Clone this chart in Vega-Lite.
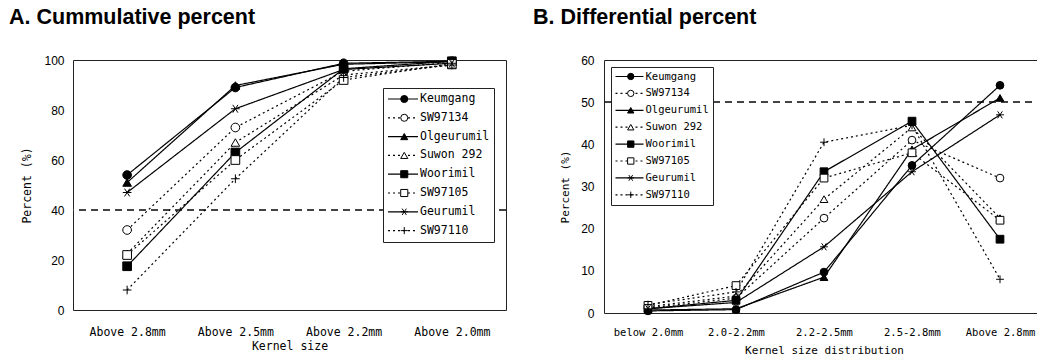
{
  "$schema": "https://vega.github.io/schema/vega-lite/v6.json",
  "padding": {"left": 8, "top": 6, "right": 0, "bottom": 0},
  "background": "white",
  "config": {
    "view": {"stroke": "#222", "strokeWidth": 1},
    "font": "Liberation Sans",
    "legend": {"labelFont": "DejaVu Sans Mono"},
    "axis": {"grid": false, "ticks": false, "domain": false, "labelColor": "black", "titleColor": "black", "titleFontWeight": "normal"},
    "title": {"anchor": "start", "frame": "group", "fontSize": 21.5, "fontWeight": "bold", "font": "Liberation Sans", "color": "black", "offset": 26}
  },
  "datasets": {
    "cum": [
      {"cultivar": "Keumgang", "size": "Above 2.8mm", "pct": 54},
      {"cultivar": "Keumgang", "size": "Above 2.5mm", "pct": 89},
      {"cultivar": "Keumgang", "size": "Above 2.2mm", "pct": 98.7},
      {"cultivar": "Keumgang", "size": "Above 2.0mm", "pct": 99.5},
      {"cultivar": "SW97134", "size": "Above 2.8mm", "pct": 32},
      {"cultivar": "SW97134", "size": "Above 2.5mm", "pct": 73},
      {"cultivar": "SW97134", "size": "Above 2.2mm", "pct": 95.5},
      {"cultivar": "SW97134", "size": "Above 2.0mm", "pct": 99},
      {"cultivar": "Olgeurumil", "size": "Above 2.8mm", "pct": 51},
      {"cultivar": "Olgeurumil", "size": "Above 2.5mm", "pct": 89.8},
      {"cultivar": "Olgeurumil", "size": "Above 2.2mm", "pct": 98.3},
      {"cultivar": "Olgeurumil", "size": "Above 2.0mm", "pct": 99.3},
      {"cultivar": "Suwon 292", "size": "Above 2.8mm", "pct": 22.5},
      {"cultivar": "Suwon 292", "size": "Above 2.5mm", "pct": 67},
      {"cultivar": "Suwon 292", "size": "Above 2.2mm", "pct": 94},
      {"cultivar": "Suwon 292", "size": "Above 2.0mm", "pct": 98},
      {"cultivar": "Woorimil", "size": "Above 2.8mm", "pct": 17.5},
      {"cultivar": "Woorimil", "size": "Above 2.5mm", "pct": 63},
      {"cultivar": "Woorimil", "size": "Above 2.2mm", "pct": 96.5},
      {"cultivar": "Woorimil", "size": "Above 2.0mm", "pct": 99.5},
      {"cultivar": "SW97105", "size": "Above 2.8mm", "pct": 22},
      {"cultivar": "SW97105", "size": "Above 2.5mm", "pct": 60},
      {"cultivar": "SW97105", "size": "Above 2.2mm", "pct": 92},
      {"cultivar": "SW97105", "size": "Above 2.0mm", "pct": 98.5},
      {"cultivar": "Geurumil", "size": "Above 2.8mm", "pct": 47},
      {"cultivar": "Geurumil", "size": "Above 2.5mm", "pct": 80.5},
      {"cultivar": "Geurumil", "size": "Above 2.2mm", "pct": 96.2},
      {"cultivar": "Geurumil", "size": "Above 2.0mm", "pct": 98.7},
      {"cultivar": "SW97110", "size": "Above 2.8mm", "pct": 8},
      {"cultivar": "SW97110", "size": "Above 2.5mm", "pct": 52.5},
      {"cultivar": "SW97110", "size": "Above 2.2mm", "pct": 93},
      {"cultivar": "SW97110", "size": "Above 2.0mm", "pct": 98}
    ],
    "diff": [
      {"cultivar": "Keumgang", "size": "below 2.0mm", "pct": 0.5},
      {"cultivar": "Keumgang", "size": "2.0-2.2mm", "pct": 0.8},
      {"cultivar": "Keumgang", "size": "2.2-2.5mm", "pct": 9.7},
      {"cultivar": "Keumgang", "size": "2.5-2.8mm", "pct": 35},
      {"cultivar": "Keumgang", "size": "Above 2.8mm", "pct": 54},
      {"cultivar": "SW97134", "size": "below 2.0mm", "pct": 1.2},
      {"cultivar": "SW97134", "size": "2.0-2.2mm", "pct": 3.5},
      {"cultivar": "SW97134", "size": "2.2-2.5mm", "pct": 22.5},
      {"cultivar": "SW97134", "size": "2.5-2.8mm", "pct": 41},
      {"cultivar": "SW97134", "size": "Above 2.8mm", "pct": 32},
      {"cultivar": "Olgeurumil", "size": "below 2.0mm", "pct": 0.7},
      {"cultivar": "Olgeurumil", "size": "2.0-2.2mm", "pct": 1.0},
      {"cultivar": "Olgeurumil", "size": "2.2-2.5mm", "pct": 8.5},
      {"cultivar": "Olgeurumil", "size": "2.5-2.8mm", "pct": 38.8},
      {"cultivar": "Olgeurumil", "size": "Above 2.8mm", "pct": 51},
      {"cultivar": "Suwon 292", "size": "below 2.0mm", "pct": 1.5},
      {"cultivar": "Suwon 292", "size": "2.0-2.2mm", "pct": 4.0},
      {"cultivar": "Suwon 292", "size": "2.2-2.5mm", "pct": 27},
      {"cultivar": "Suwon 292", "size": "2.5-2.8mm", "pct": 44},
      {"cultivar": "Suwon 292", "size": "Above 2.8mm", "pct": 22.5},
      {"cultivar": "Woorimil", "size": "below 2.0mm", "pct": 1.0},
      {"cultivar": "Woorimil", "size": "2.0-2.2mm", "pct": 3.0},
      {"cultivar": "Woorimil", "size": "2.2-2.5mm", "pct": 33.5},
      {"cultivar": "Woorimil", "size": "2.5-2.8mm", "pct": 45.5},
      {"cultivar": "Woorimil", "size": "Above 2.8mm", "pct": 17.5},
      {"cultivar": "SW97105", "size": "below 2.0mm", "pct": 1.8},
      {"cultivar": "SW97105", "size": "2.0-2.2mm", "pct": 6.5},
      {"cultivar": "SW97105", "size": "2.2-2.5mm", "pct": 32},
      {"cultivar": "SW97105", "size": "2.5-2.8mm", "pct": 38},
      {"cultivar": "SW97105", "size": "Above 2.8mm", "pct": 22},
      {"cultivar": "Geurumil", "size": "below 2.0mm", "pct": 1.0},
      {"cultivar": "Geurumil", "size": "2.0-2.2mm", "pct": 2.5},
      {"cultivar": "Geurumil", "size": "2.2-2.5mm", "pct": 15.7},
      {"cultivar": "Geurumil", "size": "2.5-2.8mm", "pct": 33.5},
      {"cultivar": "Geurumil", "size": "Above 2.8mm", "pct": 47},
      {"cultivar": "SW97110", "size": "below 2.0mm", "pct": 2.0},
      {"cultivar": "SW97110", "size": "2.0-2.2mm", "pct": 5.0},
      {"cultivar": "SW97110", "size": "2.2-2.5mm", "pct": 40.5},
      {"cultivar": "SW97110", "size": "2.5-2.8mm", "pct": 44.5},
      {"cultivar": "SW97110", "size": "Above 2.8mm", "pct": 8}
    ]
  },
  "spacing": 25,
  "hconcat": [
    {
      "title": {"text": "A. Cummulative percent", "dx": -64},
      "width": 433,
      "height": 250,
      "data": {"name": "cum"},
      "encoding": {
        "x": {"field": "size", "type": "nominal",
          "scale": {"type": "point", "padding": 0.5, "domain": ["Above 2.8mm", "Above 2.5mm", "Above 2.2mm", "Above 2.0mm"]},
          "axis": {"title": "Kernel size", "labelAngle": 0, "labelFont": "DejaVu Sans Mono", "labelFontSize": 11.5, "labelPadding": 16, "titleFont": "DejaVu Sans Mono", "titleFontSize": 11.5, "titlePadding": 3}},
        "y": {"field": "pct", "type": "quantitative",
          "scale": {"domain": [0, 100], "nice": false},
          "axis": {"title": "Percent (%)", "values": [0, 20, 40, 60, 80, 100], "labelFontSize": 12, "labelPadding": 9, "titleFont": "DejaVu Sans Mono", "titleFontSize": 11.5, "titlePadding": 11}}
      },
      "layer": [
        {"mark": {"type": "rule", "strokeDash": [7, 5], "color": "#444", "strokeWidth": 1}, "encoding": {"y": {"datum": 40}, "x": null}},
        {"mark": {"type": "line", "color": "black", "strokeWidth": 1.2},
          "encoding": {"strokeDash": {"field": "cultivar", "type": "nominal",
            "scale": {"domain": ["Keumgang", "SW97134", "Olgeurumil", "Suwon 292", "Woorimil", "SW97105", "Geurumil", "SW97110"],
              "range": [[1, 0], [2, 3], [1, 0], [2, 3], [1, 0], [2, 3], [1, 0], [2, 3]]},
            "legend": {"orient": "none", "legendX": 310, "legendY": 28, "title": null, "symbolType": "stroke", "symbolSize": 900, "symbolStrokeWidth": 1.2, "symbolStrokeColor": "black", "labelFont": "DejaVu Sans Mono", "labelFontSize": 11.5, "labelColor": "black", "labelOffset": 1, "clipHeight": 14, "rowPadding": 4.8, "padding": 4, "strokeColor": "#222", "fillColor": "white", "cornerRadius": 0}}}},
        {"mark": {"type": "point", "filled": true, "stroke": "black", "strokeWidth": 1, "size": 75, "opacity": 1},
          "encoding": {
            "shape": {"field": "cultivar", "type": "nominal",
              "scale": {"domain": ["Keumgang", "SW97134", "Olgeurumil", "Suwon 292", "Woorimil", "SW97105", "Geurumil", "SW97110"],
                "range": ["circle", "circle", "triangle-up", "triangle-up", "square", "square", "M-1,0L1,0M-0.6,-0.9L0.6,0.9M-0.6,0.9L0.6,-0.9", "M-1,0L1,0M0,-1L0,1"]},
              "legend": {"orient": "none", "legendX": 310, "legendY": 28, "title": null, "symbolSize": 50, "symbolStrokeWidth": 1, "symbolStrokeColor": "black", "symbolFillColor": "white", "symbolOffset": 11.5, "labelFont": "DejaVu Sans Mono", "labelFontSize": 11.5, "labelExpr": "''", "clipHeight": 14, "rowPadding": 4.8, "padding": 4}},
            "fill": {"field": "cultivar", "type": "nominal",
              "scale": {"domain": ["Keumgang", "SW97134", "Olgeurumil", "Suwon 292", "Woorimil", "SW97105", "Geurumil", "SW97110"],
                "range": ["black", "white", "black", "white", "black", "white", "white", "white"]},
              "legend": {"orient": "none", "legendX": 310, "legendY": 28, "title": null, "symbolSize": 50, "symbolStrokeWidth": 1, "symbolStrokeColor": "black", "symbolFillColor": "white", "symbolOffset": 11.5, "labelFont": "DejaVu Sans Mono", "labelFontSize": 11.5, "labelExpr": "''", "clipHeight": 14, "rowPadding": 4.8, "padding": 4}}
          }}
      ],
      "resolve": {"legend": {"strokeDash": "independent", "shape": "independent", "fill": "independent"}}
    },
    {
      "title": {"text": "B. Differential percent", "dx": -71},
      "width": 440,
      "height": 253,
      "data": {"name": "diff"},
      "encoding": {
        "x": {"field": "size", "type": "nominal",
          "scale": {"type": "point", "padding": 0.5, "domain": ["below 2.0mm", "2.0-2.2mm", "2.2-2.5mm", "2.5-2.8mm", "Above 2.8mm"]},
          "axis": {"title": "Kernel size distribution", "labelAngle": 0, "labelFont": "DejaVu Sans Mono", "labelFontSize": 10.5, "labelPadding": 14, "titleFont": "DejaVu Sans Mono", "titleFontSize": 11, "titlePadding": 7}},
        "y": {"field": "pct", "type": "quantitative",
          "scale": {"domain": [0, 60], "nice": false},
          "axis": {"title": "Percent (%)", "values": [0, 10, 20, 30, 40, 50, 60], "labelFontSize": 12, "labelPadding": 10, "titleFont": "DejaVu Sans Mono", "titleFontSize": 11, "titlePadding": 10}}
      },
      "layer": [
        {"mark": {"type": "rule", "strokeDash": [7, 5], "color": "#444", "strokeWidth": 1}, "encoding": {"y": {"datum": 50}, "x": null}},
        {"mark": {"type": "line", "color": "black", "strokeWidth": 1.2},
          "encoding": {"strokeDash": {"field": "cultivar", "type": "nominal",
            "scale": {"domain": ["Keumgang", "SW97134", "Olgeurumil", "Suwon 292", "Woorimil", "SW97105", "Geurumil", "SW97110"],
              "range": [[1, 0], [2, 3], [1, 0], [2, 3], [1, 0], [2, 3], [1, 0], [2, 3]]},
            "legend": {"orient": "none", "legendX": 7, "legendY": 7, "title": null, "symbolType": "stroke", "symbolSize": 784, "symbolStrokeWidth": 1.2, "symbolStrokeColor": "black", "labelFont": "DejaVu Sans Mono", "labelFontSize": 10.5, "labelColor": "black", "labelOffset": 1, "clipHeight": 12, "rowPadding": 4.9, "padding": 3.5, "strokeColor": "#222", "fillColor": "white", "cornerRadius": 0}}}},
        {"mark": {"type": "point", "filled": true, "stroke": "black", "strokeWidth": 1, "size": 60, "opacity": 1},
          "encoding": {
            "shape": {"field": "cultivar", "type": "nominal",
              "scale": {"domain": ["Keumgang", "SW97134", "Olgeurumil", "Suwon 292", "Woorimil", "SW97105", "Geurumil", "SW97110"],
                "range": ["circle", "circle", "triangle-up", "triangle-up", "square", "square", "M-1,0L1,0M-0.6,-0.9L0.6,0.9M-0.6,0.9L0.6,-0.9", "M-1,0L1,0M0,-1L0,1"]},
              "legend": {"orient": "none", "legendX": 7, "legendY": 7, "title": null, "symbolSize": 40, "symbolStrokeWidth": 1, "symbolStrokeColor": "black", "symbolFillColor": "white", "symbolOffset": 11, "labelFont": "DejaVu Sans Mono", "labelFontSize": 10.5, "labelExpr": "''", "clipHeight": 12, "rowPadding": 4.9, "padding": 3.5}},
            "fill": {"field": "cultivar", "type": "nominal",
              "scale": {"domain": ["Keumgang", "SW97134", "Olgeurumil", "Suwon 292", "Woorimil", "SW97105", "Geurumil", "SW97110"],
                "range": ["black", "white", "black", "white", "black", "white", "white", "white"]},
              "legend": {"orient": "none", "legendX": 7, "legendY": 7, "title": null, "symbolSize": 40, "symbolStrokeWidth": 1, "symbolStrokeColor": "black", "symbolFillColor": "white", "symbolOffset": 11, "labelFont": "DejaVu Sans Mono", "labelFontSize": 10.5, "labelExpr": "''", "clipHeight": 12, "rowPadding": 4.9, "padding": 3.5}}
          }}
      ],
      "resolve": {"legend": {"strokeDash": "independent", "shape": "independent", "fill": "independent"}}
    }
  ]
}
